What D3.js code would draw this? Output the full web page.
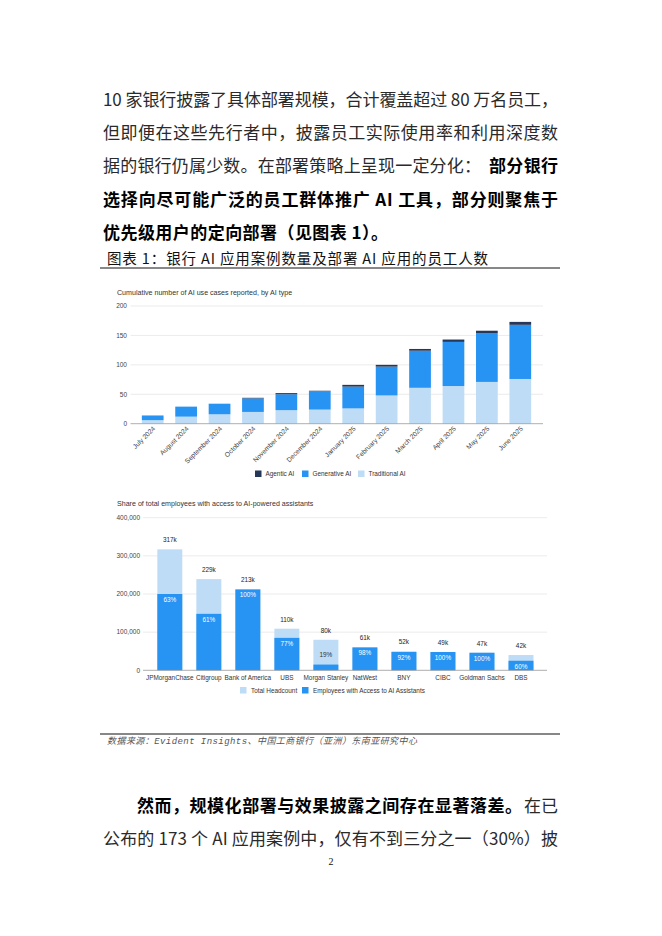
<!DOCTYPE html>
<html>
<head>
<meta charset="utf-8">
<script src="https://cdn.jsdelivr.net/npm/d3@7"></script>
<style>
  body { margin: 0; background: #fff; }
  svg { display: block; }
</style>
</head>
<body>
<script>
// top chart data: cumulative AI use cases by type
var months = ["July 2024", "August 2024", "September 2024", "October 2024", "November 2024", "December 2024",
  "January 2025", "February 2025", "March 2025", "April 2025", "May 2025", "June 2025"];
var traditional = [6, 12, 16, 20, 23, 24, 26, 48, 61, 64, 71, 76];
var generative = [8, 17, 18, 23, 27, 31, 37, 49, 63, 75, 83, 92];
var agentic = [0, 0, 0, 1, 2, 1, 3, 3, 3, 4, 4, 5];
var useCaseTicks = [0, 50, 100, 150, 200];

// bottom chart data: employees with access to AI assistants
var banks = ["JPMorganChase", "Citigroup", "Bank of America", "UBS", "Morgan Stanley", "NatWest", "BNY", "CIBC", "Goldman Sachs", "DBS"];
var headcount = [317000, 239000, 212000, 109000, 80000, 60000, 50000, 48000, 46000, 40000];
var withAccess = [200000, 148000, 212000, 85000, 15000, 60000, 48000, 48000, 46000, 25000];
var headcountLabels = ["317k", "229k", "213k", "110k", "80k", "61k", "52k", "49k", "47k", "42k"];
var accessShares = ["63%", "61%", "100%", "77%", "19%", "98%", "92%", "100%", "100%", "60%"];
var employeeTicks = [0, 100000, 200000, 300000, 400000];

var w = 662;
var h = 936;
var cjk = "'Noto Sans CJK SC', sans-serif";
var arial = "'Liberation Sans', Arial, sans-serif";

var cDark = "#25385a";
var cMid = "#2793f2";
var cLight = "#bedcf5";

var svg = d3.select("body")
  .append("svg")
  .attr("width", w)
  .attr("height", h);

svg.append("rect").attr("width", w).attr("height", h).attr("fill", "#fff");

// helper for a justified line of text
function line(x, y, str, opt) {
  var t = svg.append("text")
    .attr("x", x)
    .attr("y", y)
    .attr("font-family", opt.family || cjk)
    .attr("font-size", opt.size || 17)
    .attr("font-weight", opt.bold ? 700 : 400)
    .attr("fill", opt.fill || (opt.bold ? "#000" : "#2a2a2a"))
    .text(str);
  if (opt.len) t.attr("textLength", opt.len).attr("lengthAdjust", "spacing");
  if (opt.italic) t.attr("font-style", "italic");
  return t;
}

// body text above the figure
line(103, 106, "10 家银行披露了具体部署规模，合计覆盖超过 80 万名员工，", {len: 455});
line(103, 138.5, "但即便在这些先行者中，披露员工实际使用率和利用深度数", {len: 455});
line(103, 172, "据的银行仍属少数。在部署策略上呈现一定分化：", {len: 378});
line(489, 172, "部分银行", {bold: true, len: 69});
line(103, 206, "选择向尽可能广泛的员工群体推广 AI 工具，部分则聚焦于", {bold: true, len: 455});
line(103, 238.5, "优先级用户的定向部署（见图表 1）。", {bold: true, len: 285});

// figure caption
line(107, 263.5, "图表 1：银行 AI 应用案例数量及部署 AI 应用的员工人数", {size: 14.5, len: 381, fill: "#111"});
svg.append("line").attr("x1", 100).attr("x2", 560).attr("y1", 268).attr("y2", 268)
  .attr("stroke", "#111").attr("stroke-width", 1);

// ---------- top chart ----------
var y1 = d3.scaleLinear().domain([0, 200]).range([423.7, 306]);
var x1 = d3.scaleBand().domain(months).range([136, 537]).paddingInner(0.35).paddingOuter(0.175);

svg.append("text")
  .attr("x", 117).attr("y", 295)
  .attr("font-family", arial).attr("font-size", 7.1).attr("fill", "#333")
  .text("Cumulative number of AI use cases reported, by AI type");

svg.selectAll(".grid1")
  .data(useCaseTicks.slice(1))
  .enter()
  .append("line")
  .attr("x1", 130.5).attr("x2", 543)
  .attr("y1", function(d) { return y1(d); })
  .attr("y2", function(d) { return y1(d); })
  .attr("stroke", "#e6e6e6").attr("stroke-width", 0.8);

svg.selectAll(".ytick1")
  .data(useCaseTicks)
  .enter()
  .append("text")
  .attr("x", 127)
  .attr("y", function(d) { return y1(d) + 2.3; })
  .attr("text-anchor", "end")
  .attr("font-family", arial).attr("font-size", 6.5).attr("fill", "#444")
  .text(function(d) { return d; });

var stacks = months.map(function(m, i) {
  return {m: m, t: traditional[i], g: generative[i], a: agentic[i]};
});

svg.selectAll(".bt")
  .data(stacks)
  .enter()
  .append("rect")
  .attr("x", function(d) { return x1(d.m); })
  .attr("width", x1.bandwidth())
  .attr("y", function(d) { return y1(d.t); })
  .attr("height", function(d) { return y1(0) - y1(d.t); })
  .attr("fill", cLight);

svg.selectAll(".bg")
  .data(stacks)
  .enter()
  .append("rect")
  .attr("x", function(d) { return x1(d.m); })
  .attr("width", x1.bandwidth())
  .attr("y", function(d) { return y1(d.t + d.g); })
  .attr("height", function(d) { return y1(d.t) - y1(d.t + d.g); })
  .attr("fill", cMid);

svg.selectAll(".ba")
  .data(stacks)
  .enter()
  .append("rect")
  .attr("x", function(d) { return x1(d.m); })
  .attr("width", x1.bandwidth())
  .attr("y", function(d) { return y1(d.t + d.g + d.a); })
  .attr("height", function(d) { return y1(d.t + d.g) - y1(d.t + d.g + d.a); })
  .attr("fill", cDark);

svg.append("line").attr("x1", 130.5).attr("x2", 543).attr("y1", y1(0)).attr("y2", y1(0))
  .attr("stroke", "#999").attr("stroke-width", 0.8);

svg.selectAll(".xl1")
  .data(months)
  .enter()
  .append("text")
  .attr("transform", function(d) {
    return "translate(" + (x1(d) + x1.bandwidth() / 2 + 3) + ",429) rotate(-45)";
  })
  .attr("text-anchor", "end")
  .attr("font-family", arial).attr("font-size", 6.7).attr("fill", "#444")
  .text(function(d) { return d; });

var leg1 = [
  {name: "Agentic AI", c: cDark, x: 255},
  {name: "Generative AI", c: cMid, x: 302},
  {name: "Traditional AI", c: cLight, x: 358}
];
svg.selectAll(".lg1r")
  .data(leg1)
  .enter()
  .append("rect")
  .attr("x", function(d) { return d.x; })
  .attr("y", 470.5)
  .attr("width", 6.5).attr("height", 6.5)
  .attr("fill", function(d) { return d.c; });
svg.selectAll(".lg1t")
  .data(leg1)
  .enter()
  .append("text")
  .attr("x", function(d) { return d.x + 10.5; })
  .attr("y", 476.2)
  .attr("font-family", arial).attr("font-size", 6.4).attr("fill", "#333")
  .text(function(d) { return d.name; });

// ---------- bottom chart ----------
var y2 = d3.scaleLinear().domain([0, 400000]).range([670.3, 517.7]);
var x2 = d3.scaleBand().domain(banks).range([150.3, 540.5]).paddingInner(0.36).paddingOuter(0.18);

svg.append("text")
  .attr("x", 117).attr("y", 505.5)
  .attr("font-family", arial).attr("font-size", 7.1).attr("fill", "#333")
  .text("Share of total employees with access to AI-powered assistants");

svg.selectAll(".grid2")
  .data(employeeTicks.slice(1))
  .enter()
  .append("line")
  .attr("x1", 143).attr("x2", 547)
  .attr("y1", function(d) { return y2(d); })
  .attr("y2", function(d) { return y2(d); })
  .attr("stroke", "#e6e6e6").attr("stroke-width", 0.8);

svg.selectAll(".ytick2")
  .data(employeeTicks)
  .enter()
  .append("text")
  .attr("x", 140)
  .attr("y", function(d) { return y2(d) + 2.3; })
  .attr("text-anchor", "end")
  .attr("font-family", arial).attr("font-size", 6.5).attr("fill", "#444")
  .text(function(d) { return d3.format(",")(d); });

var emp = banks.map(function(b, i) {
  return {b: b, total: headcount[i], acc: withAccess[i], lab: headcountLabels[i], pct: accessShares[i]};
});

svg.selectAll(".bh")
  .data(emp)
  .enter()
  .append("rect")
  .attr("x", function(d) { return x2(d.b); })
  .attr("width", x2.bandwidth())
  .attr("y", function(d) { return y2(d.total); })
  .attr("height", function(d) { return y2(0) - y2(d.total); })
  .attr("fill", cLight);

svg.selectAll(".bacc")
  .data(emp)
  .enter()
  .append("rect")
  .attr("x", function(d) { return x2(d.b); })
  .attr("width", x2.bandwidth())
  .attr("y", function(d) { return y2(d.acc); })
  .attr("height", function(d) { return y2(0) - y2(d.acc); })
  .attr("fill", cMid);

svg.append("line").attr("x1", 143).attr("x2", 547).attr("y1", y2(0)).attr("y2", y2(0))
  .attr("stroke", "#999").attr("stroke-width", 0.8);

svg.selectAll(".vlab")
  .data(emp)
  .enter()
  .append("text")
  .attr("x", function(d) { return x2(d.b) + x2.bandwidth() / 2; })
  .attr("y", function(d) { return y2(Math.max(d.total, d.acc)) - 7; })
  .attr("text-anchor", "middle")
  .attr("font-family", arial).attr("font-size", 6.4).attr("fill", "#222")
  .text(function(d) { return d.lab; });

// percentage goes inside the dark bar unless the bar is too short
function tooShort(d) { return y2(0) - y2(d.acc) < 8; }

svg.selectAll(".plab")
  .data(emp)
  .enter()
  .append("text")
  .attr("x", function(d) { return x2(d.b) + x2.bandwidth() / 2; })
  .attr("y", function(d) {
    var top = y2(d.acc);
    return tooShort(d) ? top - 7.5 : top + 7.8;
  })
  .attr("text-anchor", "middle")
  .attr("font-family", arial).attr("font-size", 6.4)
  .attr("fill", function(d) { return tooShort(d) ? "#333" : "#fff"; })
  .text(function(d) { return d.pct; });

svg.selectAll(".xl2")
  .data(banks)
  .enter()
  .append("text")
  .attr("x", function(d) { return x2(d) + x2.bandwidth() / 2; })
  .attr("y", 679.5)
  .attr("text-anchor", "middle")
  .attr("font-family", arial).attr("font-size", 6.4).attr("fill", "#333")
  .text(function(d) { return d; });

var leg2 = [
  {name: "Total Headcount", c: cLight, x: 240},
  {name: "Employees with Access to AI Assistants", c: cMid, x: 302}
];
svg.selectAll(".lg2r")
  .data(leg2)
  .enter()
  .append("rect")
  .attr("x", function(d) { return d.x; })
  .attr("y", 687)
  .attr("width", 6.5).attr("height", 6.5)
  .attr("fill", function(d) { return d.c; });
svg.selectAll(".lg2t")
  .data(leg2)
  .enter()
  .append("text")
  .attr("x", function(d) { return d.x + 11; })
  .attr("y", 692.6)
  .attr("font-family", arial).attr("font-size", 6.4).attr("fill", "#333")
  .text(function(d) { return d.name; });

// source line
svg.append("line").attr("x1", 100).attr("x2", 560).attr("y1", 734).attr("y2", 734)
  .attr("stroke", "#111").attr("stroke-width", 1);
line(107, 744, "数据来源：Evident Insights、中国工商银行（亚洲）东南亚研究中心",
  {size: 9, len: 310, italic: true, fill: "#555", family: "'Liberation Mono', 'Noto Sans CJK SC', monospace"});

// body text below the figure
line(137, 811.5, "然而，规模化部署与效果披露之间存在显著落差。", {bold: true, len: 385});
line(524, 811.5, "在已", {len: 34});
line(103, 844.5, "公布的 173 个 AI 应用案例中，仅有不到三分之一（30%）披", {len: 455});

svg.append("text")
  .attr("x", 331).attr("y", 865)
  .attr("text-anchor", "middle")
  .attr("font-family", "'Liberation Serif', serif").attr("font-size", 10).attr("fill", "#111")
  .text("2");
</script>
</body>
</html>
